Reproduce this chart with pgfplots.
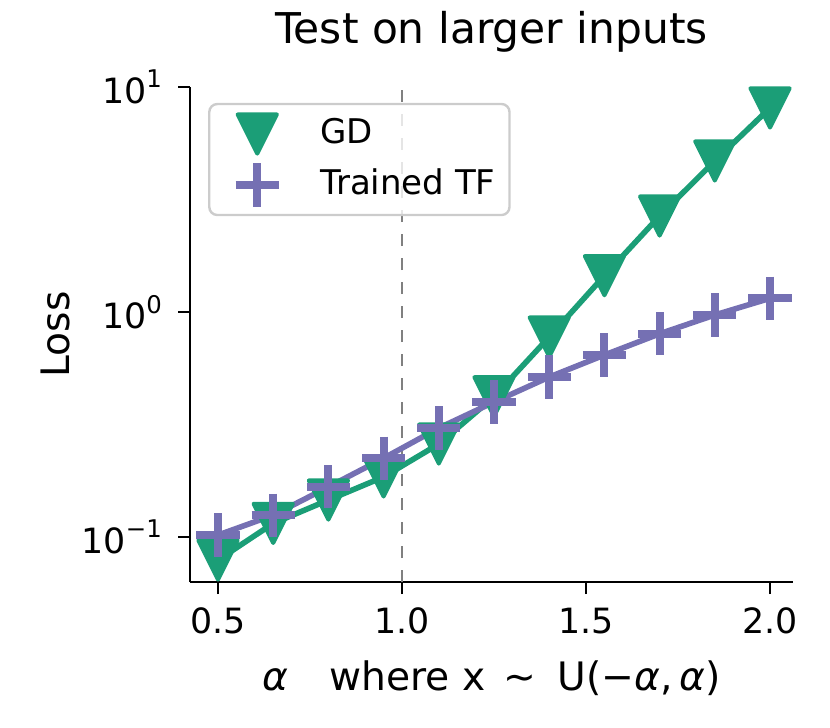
\documentclass[border=0pt]{standalone}
\usepackage{fontspec}
\setmainfont{DejaVu Sans}
\usepackage{pgfplots}
\pgfplotsset{compat=1.18}

\definecolor{gdgreen}{HTML}{1B9E77}
\definecolor{tfpurple}{HTML}{7570B3}

% matplotlib-like 'v' marker
\pgfdeclareplotmark{tridown}{%
  \pgfpathmoveto{\pgfqpoint{-\pgfplotmarksize}{\pgfplotmarksize}}%
  \pgfpathlineto{\pgfqpoint{\pgfplotmarksize}{\pgfplotmarksize}}%
  \pgfpathlineto{\pgfqpoint{0pt}{-\pgfplotmarksize}}%
  \pgfpathclose
  \pgfusepathqfillstroke}

\begin{document}
\begin{tikzpicture}
\begin{axis}[
    scale only axis,
    width=150.75pt, height=123.75pt,
    ymode=log,
    xmin=0.4239, xmax=2.0625,
    ymin=0.0631, ymax=10,
    axis lines=left,
    axis line style={-, line width=0.6pt},
    tick align=outside,
    major tick length=3pt,
    tick style={line width=0.6pt, black},
    minor tick num=0,
    yminorticks=false,
    xtick={0.5,1.0,1.5,2.0},
    xticklabels={0.5,1.0,1.5,2.0},
    ytick={0.1,1,10},
    yticklabels={10\textsuperscript{−1},10\textsuperscript{0},10\textsuperscript{1}},
    tick label style={font=\fontsize{8.7}{10}\selectfont},
    title={Test on larger inputs},
    title style={font=\fontsize{10.6}{12}\selectfont, at={(axis description cs:0.5,1)}, anchor=base, yshift=4.75pt},
    xlabel={\textit{α}\hspace{1.05em}where x\hspace{0.45em}∼\hspace{0.55em}U(−\textit{α},\,\textit{α})},
    xlabel style={font=\fontsize{9.8}{12}\selectfont, at={(axis description cs:0.5,0)}, anchor=base, yshift=-27pt},
    ylabel={Loss},
    ylabel style={font=\fontsize{9.8}{12}\selectfont, at={(axis description cs:-0.199,0.5)}, anchor=base},
    legend cell align=left,
    legend image code/.code={%
      \path[draw=none, fill=none, use as bounding box] (0pt,-5.75pt) rectangle (17pt,5.75pt);
      \draw[#1, only marks, fill opacity=1, draw opacity=1] plot coordinates {(8.5pt,0pt)};},
    legend style={
      at={(axis description cs:0.03,0.968)}, anchor=north west,
      draw=black!20, line width=0.6pt, rounded corners=2pt,
      fill=white, fill opacity=0.8, text opacity=1,
      font=\fontsize{8.5}{10}\selectfont,
      inner xsep=3.5pt, inner ysep=1.75pt,
      nodes={inner sep=0pt},
      column sep=7.25pt, row sep=1.25pt},
]
\addplot[color=gray, dashed, line width=0.5pt, forget plot] coordinates {(1,0.0631) (1,10)};

\addplot[color=gdgreen, line width=1.4pt, mark=tridown, mark size=4.9pt,
  mark options={solid, fill=gdgreen, line width=1pt, line join=round}]
  coordinates {(0.5,0.079) (0.65,0.115) (0.8,0.146) (0.95,0.185) (1.1,0.259) (1.25,0.42)
               (1.4,0.774) (1.55,1.45) (1.7,2.67) (1.85,4.69) (2.0,8.07)};
\addlegendentry{GD}

\addplot[color=tfpurple, line width=1.4pt, mark=+, mark size=5.4pt,
  mark options={solid, line width=2pt}]
  coordinates {(0.5,0.102) (0.65,0.125) (0.8,0.167) (0.95,0.224) (1.1,0.305) (1.25,0.398)
               (1.4,0.514) (1.55,0.644) (1.7,0.80) (1.85,0.97) (2.0,1.15)};
\addlegendentry{Trained TF}
\end{axis}
\pgfresetboundingbox
\path[use as bounding box] ([xshift=-47.5pt,yshift=-36.25pt]current axis.south west) rectangle ([xshift=9.25pt,yshift=21.75pt]current axis.north east);
\end{tikzpicture}
\end{document}
